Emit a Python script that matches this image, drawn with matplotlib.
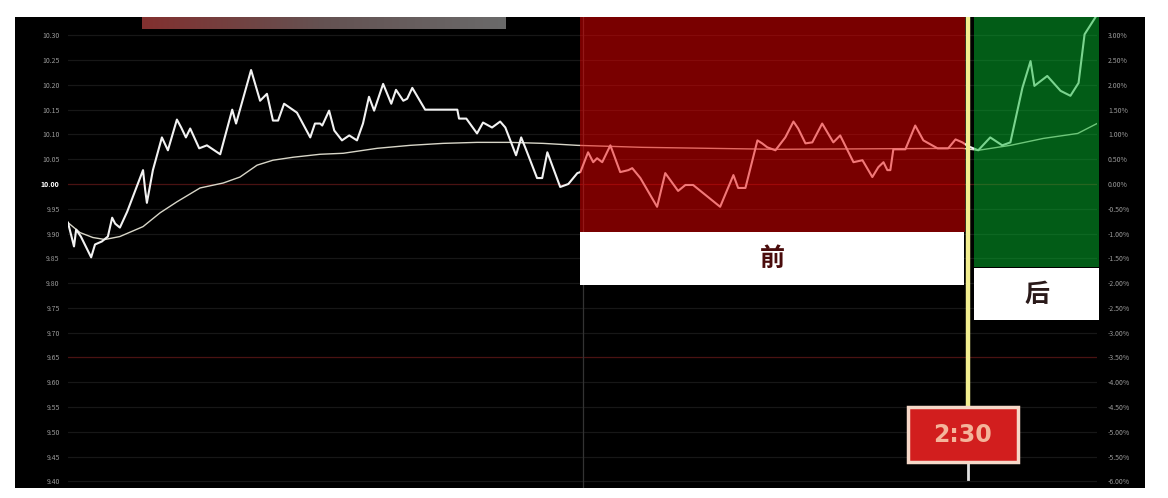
import numpy as np
import matplotlib
matplotlib.use("Agg")
import matplotlib.pyplot as plt
from matplotlib.patches import Rectangle
from matplotlib.colors import LinearSegmentedColormap

plt.rcParams['font.family'] = ['Noto Sans CJK SC', 'DejaVu Sans']

# ---------------- data (minutes since open, % change) ----------------
price_t = [0.0, 1.4, 1.9, 3.0, 5.4, 6.3, 7.9, 9.3, 10.3, 11.0, 12.1, 13.8, 17.5, 18.0, 18.4,
           19.8, 21.9, 23.3, 25.4, 26.4, 27.5, 28.5, 30.6, 32.4, 35.5, 38.3, 39.2, 42.7, 44.8,
           46.4, 47.8, 49.0, 50.4, 53.4, 56.5, 57.6, 58.8, 59.3, 60.9, 62.1, 63.9, 65.6, 67.4,
           68.8, 70.2, 71.4, 73.5, 75.4, 76.5, 78.2, 79.1, 80.3, 83.3, 90.8, 91.2, 92.9, 95.4,
           96.8, 98.9, 100.8, 102.0, 104.5, 105.7, 106.9, 109.4, 110.6, 111.8, 114.8, 116.7,
           118.8, 119.5, 121.3, 122.5, 123.4, 124.6, 126.5, 128.8, 130.7, 131.6, 133.5, 137.4,
           139.3, 142.3, 144.0, 145.8, 152.1, 155.2, 156.3, 158.0, 160.8, 161.9, 163.1, 165.0,
           167.3, 169.2, 170.3, 172.0, 173.6, 175.9, 178.5, 180.1, 183.2, 185.3, 187.6, 189.0,
           190.2, 191.1, 191.8, 192.5, 195.3, 197.6, 199.5, 202.8, 205.3, 207.0, 208.6, 210.0,
           212.3, 215.1, 217.9, 219.8, 222.6, 224.5, 225.4, 228.4, 231.5, 233.8, 235.7, 237.1,
           239.6]
price_v = [-0.78, -1.26, -0.92, -1.06, -1.48, -1.22, -1.16, -1.06, -0.68, -0.80, -0.88, -0.56,
           0.28, -0.12, -0.38, 0.28, 0.94, 0.68, 1.30, 1.14, 0.94, 1.12, 0.72, 0.78, 0.60, 1.50,
           1.22, 2.30, 1.68, 1.82, 1.28, 1.28, 1.62, 1.44, 0.94, 1.22, 1.22, 1.18, 1.48, 1.08,
           0.88, 0.98, 0.88, 1.22, 1.76, 1.48, 2.02, 1.62, 1.90, 1.68, 1.72, 1.94, 1.50, 1.50,
           1.32, 1.32, 1.02, 1.24, 1.14, 1.26, 1.14, 0.58, 0.94, 0.68, 0.12, 0.12, 0.64, -0.06,
           0.00, 0.22, 0.24, 0.64, 0.44, 0.52, 0.44, 0.78, 0.24, 0.28, 0.32, 0.12, -0.46, 0.22,
           -0.14, -0.02, -0.02, -0.46, 0.18, -0.08, -0.08, 0.88, 0.82, 0.74, 0.68, 0.94, 1.26,
           1.12, 0.82, 0.84, 1.22, 0.84, 0.98, 0.44, 0.48, 0.14, 0.34, 0.44, 0.28, 0.28, 0.70,
           0.70, 1.18, 0.88, 0.72, 0.72, 0.90, 0.84, 0.76, 0.68, 0.94, 0.78, 0.84, 1.94, 2.48,
           1.98, 2.18, 1.88, 1.78, 2.04, 3.02, 3.36]

avg_t = [0, 2.8, 5.8, 8.6, 12.1, 17.5, 21.5, 25.4, 30.8, 36.2, 40.1, 44.1, 47.8, 52.5, 58.8,
         64.2, 72.1, 79.8, 87.5, 95.4, 103.1, 110.8, 118.8, 133.9, 165.0, 208.6, 212.3, 219.8,
         227.5, 235.5, 240]
avg_v = [-0.78, -0.98, -1.08, -1.12, -1.06, -0.86, -0.58, -0.36, -0.08, 0.02, 0.14, 0.38,
         0.48, 0.54, 0.60, 0.62, 0.72, 0.78, 0.82, 0.84, 0.84, 0.82, 0.78, 0.74, 0.70, 0.72,
         0.68, 0.78, 0.92, 1.02, 1.22]

y_ticks = [3.0, 2.5, 2.0, 1.5, 1.0, 0.5, 0.0, -0.5, -1.0, -1.5, -2.0, -2.5, -3.0, -3.5,
           -4.0, -4.5, -5.0, -5.5, -6.0]
base_price = 10.00
left_labels = [f"{base_price * (1 + v / 100):.2f}" for v in y_ticks]
right_labels = [f"{v:.2f}%" for v in y_ticks]

before_span = (119.5, 209.3)   # "前"
after_span = (211.4, 240.4)    # "后"
cut_time = 210.0               # 2:30
before_label = "前"
after_label = "后"
cut_label = "2:30"

# ---------------- figure ----------------
W, H = 1168, 498
fig = plt.figure(figsize=(W / 100, H / 100), dpi=100)
fig.patch.set_facecolor("white")

# decoration layer in pixel coordinates
bg = fig.add_axes([0, 0, 1, 1])
bg.set_xlim(0, W)
bg.set_ylim(H, 0)
bg.axis("off")
bg.add_patch(Rectangle((15, 17), 1130, 471, facecolor="black", edgecolor="none", zorder=0))
grad = np.linspace(0, 1, 256).reshape(1, -1)
cm = LinearSegmentedColormap.from_list("bar", ["#82302f", "#645252", "#6a6a6a"])
bg.imshow(grad, cmap=cm, extent=(142, 506, 29, 17), aspect="auto", zorder=1)

# data axes
x0, x1, yt, yb = 68, 1097, 17, 488
ppu = (483 - 37) / 9.0
ytop = (184 - yt) / ppu
ybot = (184 - yb) / ppu
tpp = 240.0 / (x1 - x0)   # minutes per pixel
ax = fig.add_axes([x0 / W, (H - yb) / H, (x1 - x0) / W, (yb - yt) / H])
ax.set_facecolor("none")
ax.set_xlim(0, 240)
ax.set_ylim(ybot, ytop)
for s in ax.spines.values():
    s.set_visible(False)
ax.set_xticks([])

# gridlines
for v in y_ticks:
    col = "#171717"
    if v == 0.0 or v == -3.5:
        col = "#4a1212"
    ax.axhline(v, color=col, lw=0.9, zorder=1)
ax.axvline(120, color="#333333", lw=0.9, zorder=1)
ax.axvline(-0.7, color="#3a1010", lw=0.9, zorder=1)
ax.axvline(240.2, color="#2e2e2e", lw=0.9, zorder=1)

# lines
ax.plot(avg_t, avg_v, color="#d8d6c8", lw=1.0, zorder=3)
ax.plot(price_t, price_v, color="#f2f2f2", lw=1.5, zorder=4, solid_joinstyle="round")

# overlays
ax.add_patch(Rectangle((before_span[0], -0.97), before_span[1] - before_span[0], ytop + 0.97,
                       facecolor=(0.95, 0.0, 0.0), alpha=0.5, edgecolor="none", zorder=6))
ax.add_patch(Rectangle((after_span[0], -1.68), after_span[1] - after_span[0], ytop + 1.68,
                       facecolor=(0.02, 0.72, 0.18), alpha=0.5, edgecolor="none", zorder=6,
                       clip_on=False))
ax.add_patch(Rectangle((before_span[0], -2.03), before_span[1] - before_span[0] - 0.4, 1.06,
                       facecolor="white", edgecolor="none", zorder=7))
ax.add_patch(Rectangle((after_span[0], -2.75), after_span[1] - after_span[0], 1.05,
                       facecolor="white", edgecolor="none", zorder=7, clip_on=False))
ax.text(sum(before_span) / 2, -1.52, before_label, ha="center", va="center", fontsize=18,
        fontweight="bold", color="#4a0c0c", zorder=8)
ax.text(sum(after_span) / 2, -2.24, after_label, ha="center", va="center", fontsize=18,
        fontweight="bold", color="#2a1a1a", zorder=8, clip_on=False)

# 2:30 marker
ax.plot([cut_time, cut_time], [ytop, -4.52], color="#f2ee90", lw=3.2, zorder=9,
        solid_capstyle="butt")
ax.plot([cut_time, cut_time], [-5.6, -5.95], color="#e0e0e0", lw=2.0, zorder=9)
box_x0 = (908 - x0) * tpp
box_w = (1018 - 908) * tpp
box_y0 = (184 - 462) / ppu
box_y1 = (184 - 407) / ppu
ax.add_patch(Rectangle((box_x0, box_y0), box_w, box_y1 - box_y0,
                       facecolor="#d21e1e", edgecolor="#f6d8c8", lw=2.5, zorder=10))
ax.text(box_x0 + box_w / 2, (box_y0 + box_y1) / 2, cut_label, ha="center", va="center",
        fontsize=17, fontweight="bold", color="#f4b49a", family="DejaVu Sans", zorder=11)

# tick labels
ax.set_yticks(y_ticks)
ax.set_yticklabels(left_labels)
ax.tick_params(axis="y", length=0, pad=6, labelsize=5, labelcolor="#9a9a9a")
for lab, v in zip(ax.get_yticklabels(), y_ticks):
    if v == 0.0:
        lab.set_color("#ffffff")
        lab.set_fontweight("bold")
ax2 = ax.twinx()
ax2.set_ylim(ybot, ytop)
ax2.set_yticks(y_ticks)
ax2.set_yticklabels(right_labels)
ax2.tick_params(axis="y", length=0, pad=8, labelsize=5, labelcolor="#9a9a9a")
for s in ax2.spines.values():
    s.set_visible(False)

fig.savefig("out.png", dpi=100, facecolor="white")
